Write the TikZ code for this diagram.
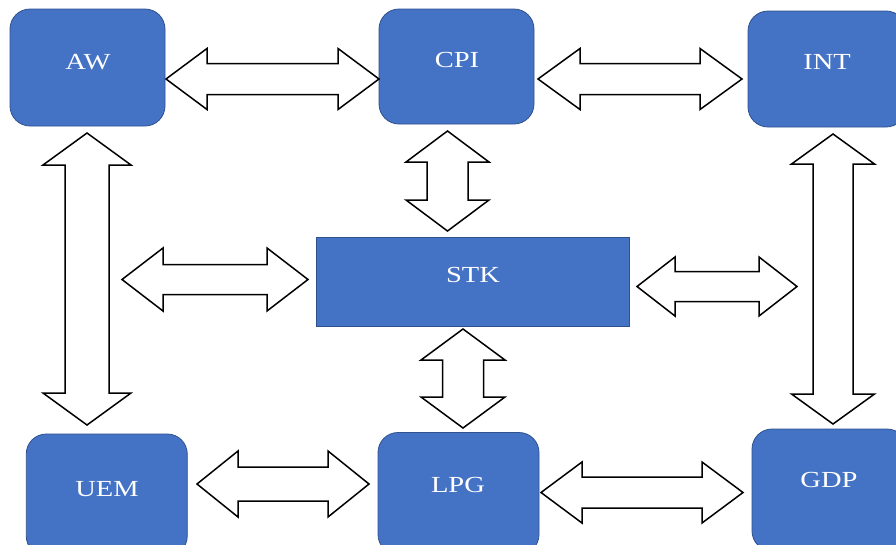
\documentclass[tikz,border=0pt]{standalone}
\usepackage{graphicx}
\usepackage{fontspec}
\setmainfont{Liberation Serif}
\usetikzlibrary{calc}
\definecolor{boxblue}{HTML}{4472C4}
\definecolor{boxedge}{HTML}{2F528F}
\newcommand\wtxt[1]{\scalebox{1.24}[1]{#1}}
% horizontal double block arrow: #1 left tip, #2 right tip, #3 head length, #4 head half-height, #5 shaft half-height
\newcommand\harrow[5]{\draw[blockarrow] let \p1=(#1),\p2=(#2) in
 (\x1,\y1) -- (\x1+#3pt,\y1+#4pt) -- (\x1+#3pt,\y1+#5pt) -- (\x2-#3pt,\y1+#5pt) -- (\x2-#3pt,\y1+#4pt)
 -- (\x2,\y1) -- (\x2-#3pt,\y1-#4pt) -- (\x2-#3pt,\y1-#5pt) -- (\x1+#3pt,\y1-#5pt) -- (\x1+#3pt,\y1-#4pt) -- cycle;}
% vertical double block arrow: #1 top tip, #2 bottom tip, #3 head length, #4 head half-width, #5 shaft half-width
\newcommand\varrow[5]{\draw[blockarrow] let \p1=(#1),\p2=(#2) in
 (\x1,\y1) -- (\x1-#4pt,\y1-#3pt) -- (\x1-#5pt,\y1-#3pt) -- (\x1-#5pt,\y2+#3pt) -- (\x1-#4pt,\y2+#3pt)
 -- (\x1,\y2) -- (\x1+#4pt,\y2+#3pt) -- (\x1+#5pt,\y2+#3pt) -- (\x1+#5pt,\y1-#3pt) -- (\x1+#4pt,\y1-#3pt) -- cycle;}
\begin{document}
\begin{tikzpicture}[x=1pt,y=-1pt,
  rbox/.style={draw=boxedge, line width=0.8pt, fill=boxblue, rounded corners=20pt, inner sep=0pt},
  sbox/.style={draw=boxedge, line width=0.8pt, fill=boxblue, inner sep=0pt},
  lbl/.style={text=white, font=\fontsize{23}{28}\selectfont, inner sep=0pt},
  blockarrow/.style={draw=black, line width=1.5pt, fill=white, line join=miter}]
\useasboundingbox (0,0) rectangle (896,544);
\fill[white] (0,0) rectangle (896,544);
\clip (0,0) rectangle (896,544);
% boxes
\node[rbox, minimum width=155pt, minimum height=117pt] (aw)  at (87.5,67.5) {};
\node[rbox, minimum width=155pt, minimum height=115pt] (cpi) at (456.5,66.5) {};
\node[rbox, minimum width=158pt, minimum height=116pt] (int) at (827,69) {};
\node[sbox, minimum width=313pt, minimum height=89pt]  (stk) at (472.5,281.5) {};
\node[rbox, minimum width=161pt, minimum height=122pt] (uem) at (106.75,495) {};
\node[rbox, minimum width=161pt, minimum height=122pt] (lpg) at (458.5,493.5) {};
\node[rbox, minimum width=155pt, minimum height=122pt] (gdp) at (829.5,490) {};
% labels
\node[lbl] (awt)  at (88,62)  {\wtxt{AW}};
\node[lbl] (cpit) at (457,60) {\wtxt{CPI}};
\node[lbl] (intt) at (827,62) {\wtxt{INT}};
\node[lbl] (stkt) at (473,275) {\wtxt{STK}};
\node[lbl] (uemt) at (107,489) {\wtxt{UEM}};
\node[lbl] (lpgt) at (458,485) {\wtxt{LPG}};
\node[lbl] (gdpt) at (829,480) {\wtxt{GDP}};
% arrow end points
\coordinate (awcpiA) at (166,79);   \coordinate (awcpiB) at (379,79);
\coordinate (cpiintA) at (538,79);  \coordinate (cpiintB) at (742,79);
\coordinate (lstkA) at (122,279.5); \coordinate (lstkB) at (308,279.5);
\coordinate (stkrA) at (637,286.5); \coordinate (stkrB) at (797,286.5);
\coordinate (uemlpgA) at (197,484); \coordinate (uemlpgB) at (369,484);
\coordinate (lpggdpA) at (541,492.5); \coordinate (lpggdpB) at (743,492.5);
\coordinate (awuemA) at (87,133);   \coordinate (awuemB) at (87,425);
\coordinate (cpistkA) at (447.5,131); \coordinate (cpistkB) at (447.5,231);
\coordinate (stklpgA) at (463,329); \coordinate (stklpgB) at (463,428);
\coordinate (intgdpA) at (833,134); \coordinate (intgdpB) at (833,424);
% arrows
\harrow{awcpiA}{awcpiB}{41}{30.5}{15.5}
\harrow{cpiintA}{cpiintB}{42}{30.5}{15.5}
\harrow{lstkA}{lstkB}{41}{31.5}{15}
\harrow{stkrA}{stkrB}{38}{29.5}{15}
\harrow{uemlpgA}{uemlpgB}{41}{33}{17}
\harrow{lpggdpA}{lpggdpB}{41}{30.5}{15.5}
\varrow{awuemA}{awuemB}{32}{44}{22}
\varrow{cpistkA}{cpistkB}{31}{41.5}{20.5}
\varrow{stklpgA}{stklpgB}{31}{42}{20.5}
\varrow{intgdpA}{intgdpB}{30}{41.5}{20}
\end{tikzpicture}
\end{document}
